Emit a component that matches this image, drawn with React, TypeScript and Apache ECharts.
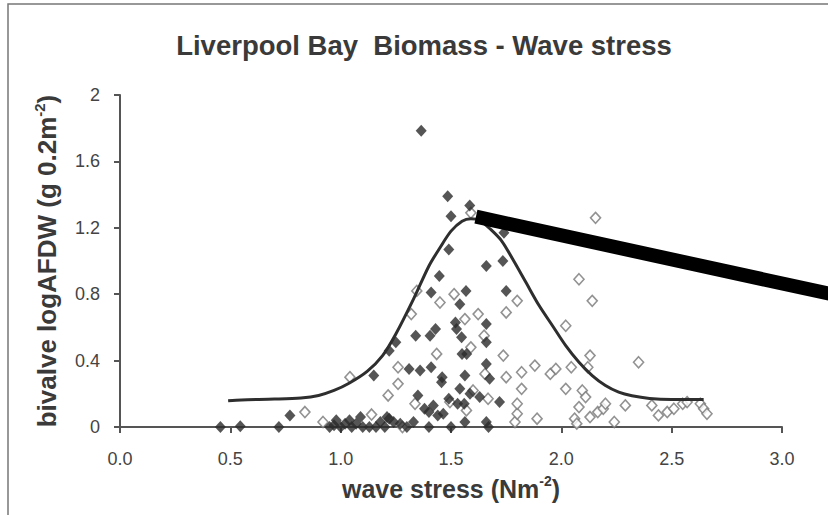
import React, { useEffect, useRef } from "react";
import * as echarts from "echarts";

const xTicks = [0, 0.5, 1, 1.5, 2, 2.5, 3];
const yTicks = [0, 0.4, 0.8, 1.2, 1.6, 2];

// filled diamonds
const solidPoints: [number, number][] = [
  [0.455, 0], [0.545, 0.005], [0.72, 0], [0.77, 0.07],
  [0.95, 0], [0.97, 0.01], [0.98, 0.04], [1.0, 0], [1.02, 0.02], [1.04, 0.04], [1.05, 0],
  [1.07, 0.02], [1.09, 0.06], [1.1, 0], [1.13, 0], [1.15, 0.31], [1.16, 0], [1.18, 0.03],
  [1.2, 0], [1.21, 0.06], [1.22, 0.05], [1.22, 0.46], [1.24, 0.03], [1.25, 0.51], [1.27, 0.02],
  [1.3, 0], [1.31, 0.35], [1.33, 0.03], [1.34, 0.55], [1.35, 0.19], [1.36, 0.34], [1.365, 1.785],
  [1.38, 0.11], [1.4, 0], [1.4, 0.09], [1.405, 0.55], [1.41, 0.81], [1.41, 0.36], [1.42, 0.13],
  [1.43, 0.59], [1.44, 0.07], [1.447, 0.91], [1.457, 0.27], [1.46, 0.3], [1.465, 0.08],
  [1.485, 1.39], [1.49, 0.17], [1.49, 1.07], [1.5, 0], [1.5, 1.27], [1.52, 0.63], [1.525, 0.59],
  [1.53, 0.14], [1.54, 0.23], [1.54, 0.74], [1.548, 0.54], [1.55, 0.44], [1.56, 0.14],
  [1.563, 0.31], [1.563, 0.03], [1.568, 0.82], [1.571, 0.44], [1.586, 0.2], [1.585, 1.335],
  [1.63, 0.18], [1.66, 0.97], [1.66, 0.62], [1.66, 0.51], [1.66, 0.38], [1.66, 0.03], [1.67, 0],
  [1.675, 0.29], [1.72, 0.15], [1.735, 1.0], [1.74, 1.17], [1.75, 0.82],
];

// open diamonds
const openPoints: [number, number][] = [
  [0.838, 0.09], [0.92, 0.03], [1.042, 0.3], [1.14, 0.075], [1.215, 0.19], [1.26, 0.36],
  [1.26, 0.26], [1.28, 0], [1.32, 0.68], [1.345, 0.82], [1.337, 0.14], [1.435, 0.44],
  [1.45, 0.75], [1.495, 0.15], [1.514, 0.8], [1.563, 0.65], [1.57, 0.1], [1.59, 1.29],
  [1.59, 0.48], [1.6, 0.22], [1.623, 0.68], [1.65, 0.55], [1.654, 0.32], [1.668, 0.17],
  [1.737, 0.43], [1.75, 0.69], [1.75, 0.3], [1.79, 0.03], [1.8, 0.76], [1.8, 0.08], [1.8, 0.14],
  [1.82, 0.33], [1.82, 0.23], [1.88, 0.37], [1.89, 0.05], [1.95, 0.32], [1.975, 0.35],
  [2.02, 0.61], [2.02, 0.23], [2.045, 0.36], [2.06, 0.05], [2.07, 0.02], [2.08, 0.89],
  [2.08, 0.12], [2.095, 0.22], [2.11, 0.18], [2.12, 0.36], [2.13, 0.43], [2.13, 0.06],
  [2.14, 0.76], [2.155, 1.26], [2.165, 0.09], [2.19, 0.11], [2.2, 0.14], [2.24, 0.03],
  [2.29, 0.13], [2.35, 0.39], [2.41, 0.13], [2.44, 0.07], [2.48, 0.09], [2.51, 0.11],
  [2.55, 0.14], [2.57, 0.15], [2.63, 0.14], [2.645, 0.11], [2.66, 0.08],
];

// fitted curve
const curvePoints: [number, number][] = [
  [0.49, 0.158], [0.55, 0.163], [0.7, 0.168], [0.82, 0.175], [0.9, 0.19], [0.97, 0.22],
  [1.04, 0.265], [1.12, 0.335], [1.19, 0.43], [1.25, 0.56], [1.33, 0.77], [1.4, 0.97],
  [1.45, 1.08], [1.5, 1.18], [1.55, 1.24], [1.59, 1.255], [1.63, 1.245], [1.68, 1.19],
  [1.73, 1.12], [1.78, 1.01], [1.84, 0.87], [1.9, 0.73], [1.96, 0.61], [2.02, 0.49],
  [2.08, 0.39], [2.14, 0.31], [2.2, 0.25], [2.26, 0.21], [2.32, 0.188], [2.4, 0.172],
  [2.5, 0.166], [2.645, 0.166],
];

// thick black pointer bar (annotation), in data coordinates
const pointerBar: [number, number][] = [
  [1.613, 1.267], [3.4, 0.749],
];

const FONT = "'Liberation Sans', Arial, sans-serif";

export default function App() {
  const ref = useRef<HTMLDivElement>(null);
  useEffect(() => {
    if (!ref.current) return;
    const chart = echarts.init(ref.current, undefined, { renderer: "svg" });
    chart.setOption({
      animation: false,
      backgroundColor: "#ffffff",
      title: {
        text: "Liverpool Bay  Biomass - Wave stress",
        left: 419,
        textAlign: "center",
        top: 26,
        textStyle: { fontFamily: FONT, fontSize: 27.5, fontWeight: "bold", color: "#3a3a3a" },
      },
      grid: { left: 120, right: 46, top: 95, bottom: 88 },
      xAxis: {
        type: "value",
        min: xTicks[0],
        max: xTicks[xTicks.length - 1],
        interval: 0.5,
        name: "wave stress (Nm{sup|-2})",
        nameLocation: "middle",
        nameGap: 47,
        nameTextStyle: {
          fontFamily: FONT,
          fontSize: 25,
          fontWeight: "bold",
          color: "#3a3a3a",
          lineHeight: 30,
          rich: {
            sup: { fontFamily: FONT, fontSize: 14, fontWeight: "bold", color: "#3a3a3a", verticalAlign: "top", lineHeight: 30, padding: [0, 0, 12, 0] },
          },
        },
        axisLine: { lineStyle: { color: "#555", width: 2 } },
        axisTick: { length: 6, lineStyle: { color: "#555", width: 2 } },
        axisLabel: {
          margin: 23,
          fontFamily: FONT,
          fontSize: 18,
          color: "#444",
          formatter: (v: number) => v.toFixed(1),
        },
        splitLine: { show: false },
      },
      yAxis: {
        type: "value",
        min: yTicks[0],
        max: yTicks[yTicks.length - 1],
        interval: 0.4,
        name: "bivalve logAFDW (g 0.2m{sup|-2})",
        nameLocation: "middle",
        nameGap: 58,
        nameRotate: 90,
        nameTextStyle: {
          fontFamily: FONT,
          fontSize: 26,
          fontWeight: "bold",
          color: "#3a3a3a",
          lineHeight: 30,
          rich: {
            sup: { fontFamily: FONT, fontSize: 15, fontWeight: "bold", color: "#3a3a3a", verticalAlign: "top", lineHeight: 30, padding: [0, 0, 13, 0] },
          },
        },
        axisLine: { show: true, lineStyle: { color: "#555", width: 2 } },
        axisTick: { show: true, length: 6, lineStyle: { color: "#555", width: 2 } },
        axisLabel: {
          margin: 20,
          fontFamily: FONT,
          fontSize: 18,
          color: "#444",
          formatter: (v: number) => String(Math.round(v * 10) / 10),
        },
        splitLine: { show: false },
      },
      graphic: [
        {
          id: "frame",
          type: "rect",
          shape: { x: 8, y: 4, width: 900, height: 600 },
          style: { fill: "none", stroke: "#777", lineWidth: 1.5 },
          silent: true,
        },
      ],
      series: [
        {
          type: "scatter",
          data: openPoints,
          symbol: "diamond",
          symbolSize: [10, 11],
          itemStyle: { color: "#ffffff", borderColor: "#777", borderWidth: 1.6 },
          z: 2,
        },
        {
          type: "scatter",
          data: solidPoints,
          symbol: "diamond",
          symbolSize: [11, 12],
          itemStyle: { color: "#2a2a2a" },
          z: 3,
        },
        {
          type: "line",
          data: curvePoints,
          smooth: 0.3,
          showSymbol: false,
          lineStyle: { color: "#2e2e2e", width: 3 },
          z: 4,
        },
      ],
    });
    const p1 = chart.convertToPixel({ gridIndex: 0 }, pointerBar[0]) as number[];
    const p2 = chart.convertToPixel({ gridIndex: 0 }, pointerBar[1]) as number[];
    chart.setOption({
      graphic: [
        {
          id: "pointer",
          type: "line",
          shape: { x1: p1[0], y1: p1[1], x2: p2[0], y2: p2[1] },
          style: { stroke: "#000", lineWidth: 14, lineCap: "butt" },
          z: 100,
          silent: true,
        },
      ],
    });
    return () => chart.dispose();
  }, []);
  return (
    <div
      ref={ref}
      style={{ position: "fixed", left: 0, top: 0, width: 828, height: 515 }}
    />
  );
}
